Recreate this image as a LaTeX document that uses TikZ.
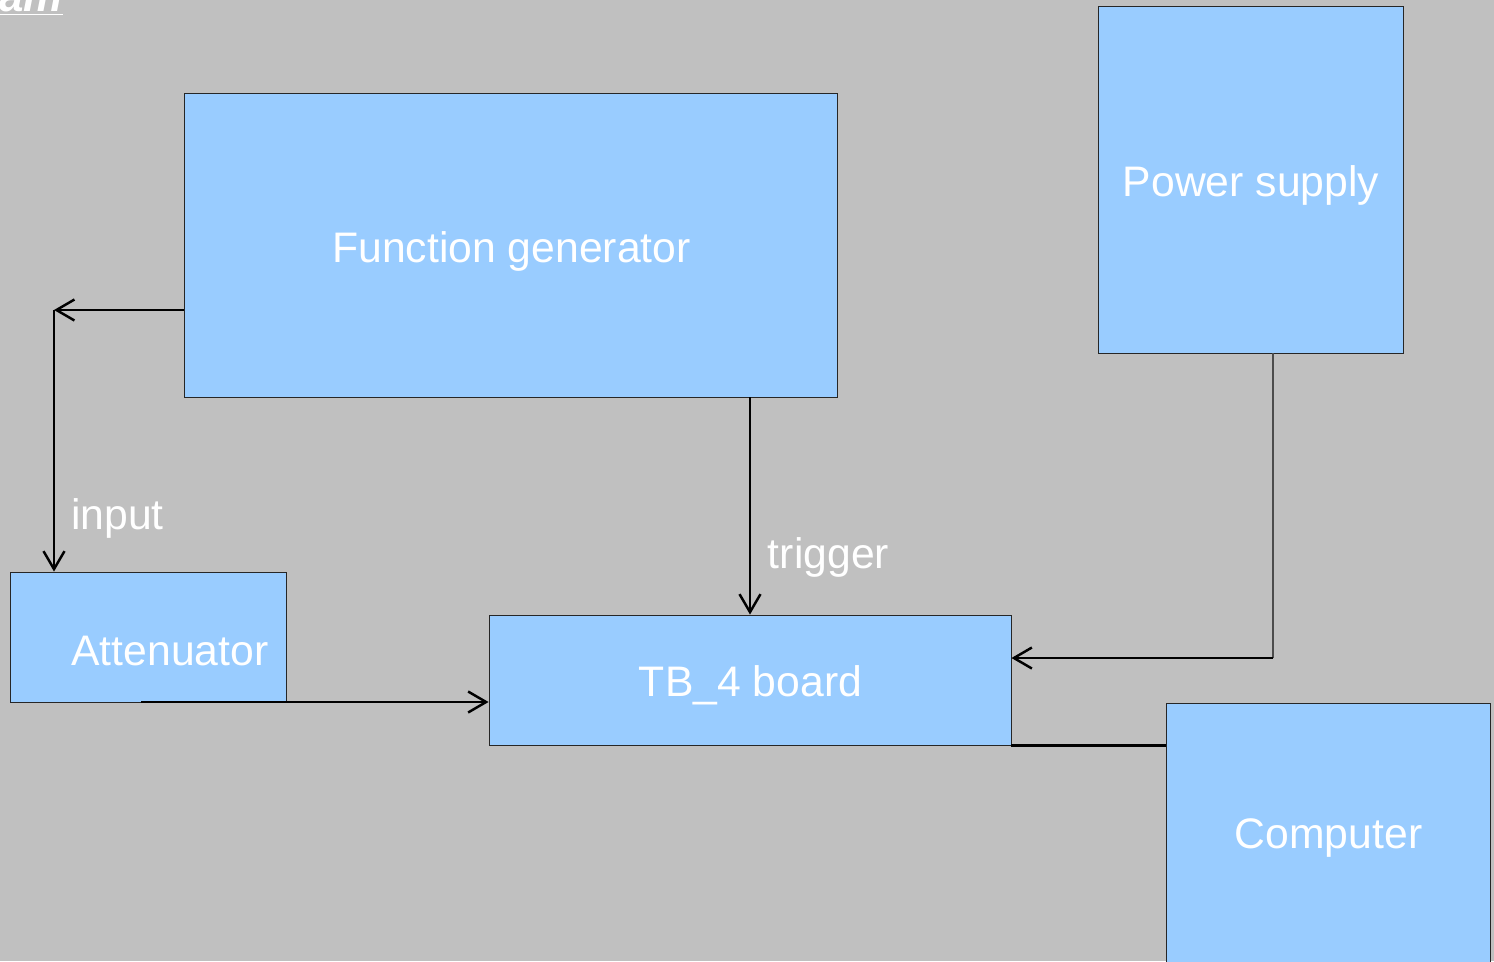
\documentclass[tikz,border=0pt]{standalone}
\usepackage{fontspec}
\setmainfont{Liberation Sans}
\usetikzlibrary{arrows.meta}
\definecolor{bggray}{HTML}{C0C0C0}
\definecolor{boxblue}{HTML}{99CCFF}

\begin{document}
\begin{tikzpicture}[
  box/.style={draw=black!85, line width=0.5pt, fill=boxblue, inner sep=0pt},
  txt/.style={text=white, font=\fontsize{24.3}{28}\selectfont},
  arr/.style={line width=1.5pt, -{Straight Barb[length=3.6mm, width=4.2mm, line width=1.4pt]}},
  wire/.style={line width=1.5pt}
]
\fill[bggray] (0,0) rectangle (29.88,-19.22);
\useasboundingbox (0,0) rectangle (29.88,-19.22);
\node[anchor=base east, text=white, font=\fontsize{25}{28}\selectfont\bfseries\itshape] (title) at (1.38,-0.22) {\underline{am}};
\node[box, minimum width=13.06cm, minimum height=6.08cm] (fg) at (10.21,-4.9) {};
\node[box, minimum width=6.1cm, minimum height=6.94cm] (ps) at (25.01,-3.59) {};
\node[box, minimum width=5.52cm, minimum height=2.6cm] (att) at (2.96,-12.74) {};
\node[box, minimum width=10.44cm, minimum height=2.6cm] (tb) at (15.0,-13.6) {};
\node[box, minimum width=6.48cm, minimum height=6.0cm] (comp) at (26.56,-17.06) {};
\node[txt] (fgtext) at (10.23,-5.02) {Function generator};
\node[txt] (pstext) at (25.02,-3.7) {Power supply};
\node[txt] (atttext) at (3.4,-13.02) {Attenuator};
\node[txt] (tbtext) at (15.01,-13.7) {TB\_4 board};
\node[txt] (comptext) at (26.57,-16.76) {Computer};
\node[txt] (input) at (2.35,-10.36) {input};
\node[txt] (trigger) at (16.57,-11.15) {trigger};
\coordinate (bend1) at (1.08,-6.2);
\coordinate (attout) at (2.82,-14.04);
\coordinate (bend2) at (25.46,-13.16);
\draw[arr] (fg.west |- bend1) -- (bend1);
\draw[arr] (bend1) -- (bend1 |- att.north);
\draw[arr] (fg.south -| tb.north) -- (tb.north);
\draw[arr] (attout) -- (attout -| tb.west);
\draw[line width=0.6pt, black!70] (ps.south -| bend2) -- (bend2);
\draw[arr] (bend2) -- (bend2 -| tb.east);
\draw[wire] (tb.south east) -- (tb.south east -| comp.west);
\end{tikzpicture}
\end{document}
